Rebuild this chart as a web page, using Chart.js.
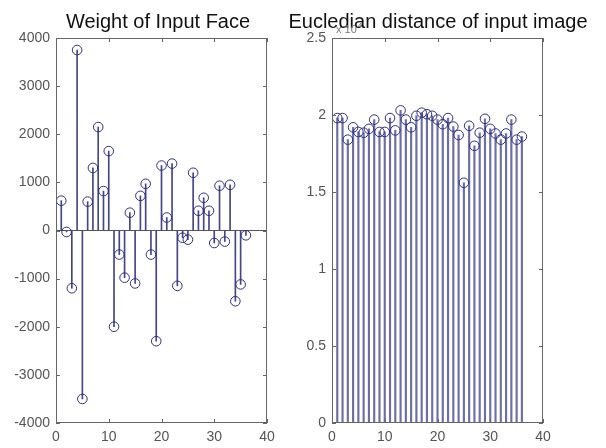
<!DOCTYPE html>
<html>
<head>
<meta charset="utf-8">
<script src="https://cdn.jsdelivr.net/npm/chart.js@4/dist/chart.umd.min.js"></script>
<style>
  html, body { margin: 0; padding: 0; background: #fff; }
  #wrap { position: relative; width: 606px; height: 448px; overflow: hidden; }
  #left { position: absolute; left: 0; top: 0; }
  #right { position: absolute; left: 270px; top: 0; }
</style>
</head>
<body>
<div id="wrap">
  <canvas id="left" width="316" height="448"></canvas>
  <canvas id="right" width="336" height="448"></canvas>
</div>
<script>
// sample number of each input face
const sampleNo = [1, 2, 3, 4, 5, 6, 7, 8, 9, 10, 11, 12, 13, 14, 15, 16, 17, 18,
    19, 20, 21, 22, 23, 24, 25, 26, 27, 28, 29, 30, 31, 32, 33, 34, 35, 36];

// left panel: weight of input face
const weights = [620, -30, -1200, 3750, -3500, 600, 1300, 2150, 820, 1650, -2000, -500,
    -980, 370, -1100, 720, 970, -500, -2300, 1350, 270, 1390, -1150, -150,
    -190, 1200, 410, 680, 410, -260, 930, -230, 950, -1470, -1120, -100];

// right panel: eucledian distance (x 10^4)
const distances = [19800, 19800, 18400, 19200, 18900, 18850, 19100, 19700, 18900, 18900, 19800, 19000,
    20300, 19700, 19200, 19950, 20150, 20050, 19950, 19700, 19400, 19800, 19250, 18700,
    15600, 19300, 18000, 18850, 19750, 19100, 18800, 18400, 18800, 19700, 18400, 18600];

const leftTicksY = [-4000, 4000, 1000];
const rightTicksY = [0, 25000, 5000];
const ticksX = [0, 40, 10];

const FONT = "'Liberation Sans', Arial, sans-serif";
const LABEL_COLOR = "#555";

// MATLAB style box with ticks drawn inwards
const matlabAxes = {
    id: "matlabAxes",
    afterDatasetsDraw(chart, args, opts) {
        const { ctx, chartArea: a } = chart;
        const x = chart.scales.x, y = chart.scales.y;
        ctx.save();
        ctx.strokeStyle = "#666";
        ctx.lineWidth = 1;
        ctx.strokeRect(Math.round(a.left) + 0.5, Math.round(a.top) + 0.5,
            Math.round(a.right - a.left) - 1, Math.round(a.bottom - a.top) - 1);
        ctx.beginPath();
        x.ticks.forEach((t, i) => {
            const px = Math.round(x.getPixelForTick(i)) + 0.5;
            ctx.moveTo(px, a.bottom); ctx.lineTo(px, a.bottom - 4);
            ctx.moveTo(px, a.top); ctx.lineTo(px, a.top + 4);
        });
        y.ticks.forEach((t, i) => {
            const py = Math.round(y.getPixelForTick(i)) + 0.5;
            ctx.moveTo(a.left, py); ctx.lineTo(a.left + 4, py);
            ctx.moveTo(a.right, py); ctx.lineTo(a.right - 4, py);
        });
        ctx.stroke();
        if (opts.exponent) {
            ctx.fillStyle = "#777";
            ctx.font = "11px " + FONT;
            ctx.textBaseline = "alphabetic";
            ctx.fillText("x 10", a.left + 4, a.top - 5);
            const w = ctx.measureText("x 10").width;
            ctx.font = "8px " + FONT;
            ctx.fillText(opts.exponent, a.left + 4 + w + 1, a.top - 10);
        }
        ctx.restore();
    },
};

function stemChart(canvasId, values, yRange, cfg) {
    const canvas = document.getElementById(canvasId);
    const pts = sampleNo.map((n, i) => ({ x: n, y: values[i] }));
    return new Chart(canvas, {
        type: "bar",
        data: {
            datasets: [
                {
                    type: "line",
                    data: pts,
                    showLine: false,
                    pointRadius: 4.8,
                    pointBorderWidth: 1,
                    pointBorderColor: "#2e2e8c",
                    pointBackgroundColor: "rgba(0,0,0,0)",
                    order: 0,
                },
                {
                    type: "bar",
                    data: pts,
                    barThickness: cfg.stemWidth,
                    backgroundColor: cfg.stemColor,
                    borderWidth: 0,
                    order: 1,
                },
            ],
        },
        options: {
            responsive: false,
            animation: false,
            devicePixelRatio: 1,
            layout: { padding: 0 },
            scales: {
                x: {
                    type: "linear",
                    min: ticksX[0],
                    max: ticksX[1],
                    offset: false,
                    ticks: { stepSize: ticksX[2], color: LABEL_COLOR, font: { family: FONT, size: 14 }, padding: 6 },
                    grid: { display: false, drawTicks: false },
                    border: { display: false },
                    afterFit: (s) => { s.height = 25; },
                },
                y: {
                    type: "linear",
                    position: "left",
                    min: yRange[0],
                    max: yRange[1],
                    ticks: {
                        stepSize: yRange[2],
                        color: LABEL_COLOR,
                        font: { family: FONT, size: 14 },
                        padding: 6,
                        callback: cfg.tickFormat,
                    },
                    grid: {
                        drawTicks: false,
                        color: (c) => (cfg.baseline && c.tick && c.tick.value === 0 ? "#555" : "rgba(0,0,0,0)"),
                    },
                    border: { display: false },
                    afterFit: (s) => { s.width = cfg.leftWidth; },
                },
                pad: {
                    type: "linear",
                    position: "right",
                    ticks: { display: false },
                    grid: { display: false, drawTicks: false },
                    border: { display: false },
                    afterFit: (s) => { s.width = cfg.rightWidth; },
                },
            },
            plugins: {
                legend: { display: false },
                tooltip: { enabled: false },
                title: {
                    display: true,
                    text: cfg.title,
                    color: "#111",
                    font: { family: FONT, size: 20, weight: "normal" },
                    padding: { top: 10, bottom: 4 },
                },
                matlabAxes: { exponent: cfg.exponent },
            },
        },
        plugins: [matlabAxes],
    });
}

stemChart("left", weights, leftTicksY, {
    title: "Weight of Input Face",
    stemColor: "#45458a",
    stemWidth: 1,
    baseline: true,
    leftWidth: 56,
    rightWidth: 49,
    tickFormat: (v) => String(v),
});

stemChart("right", distances, rightTicksY, {
    title: "Eucledian distance of input image",
    stemColor: "#6e6ea6",
    stemWidth: 1.5,
    baseline: false,
    leftWidth: 62,
    rightWidth: 63,
    exponent: "4",
    tickFormat: (v) => String(v / 10000),
});
</script>
</body>
</html>
